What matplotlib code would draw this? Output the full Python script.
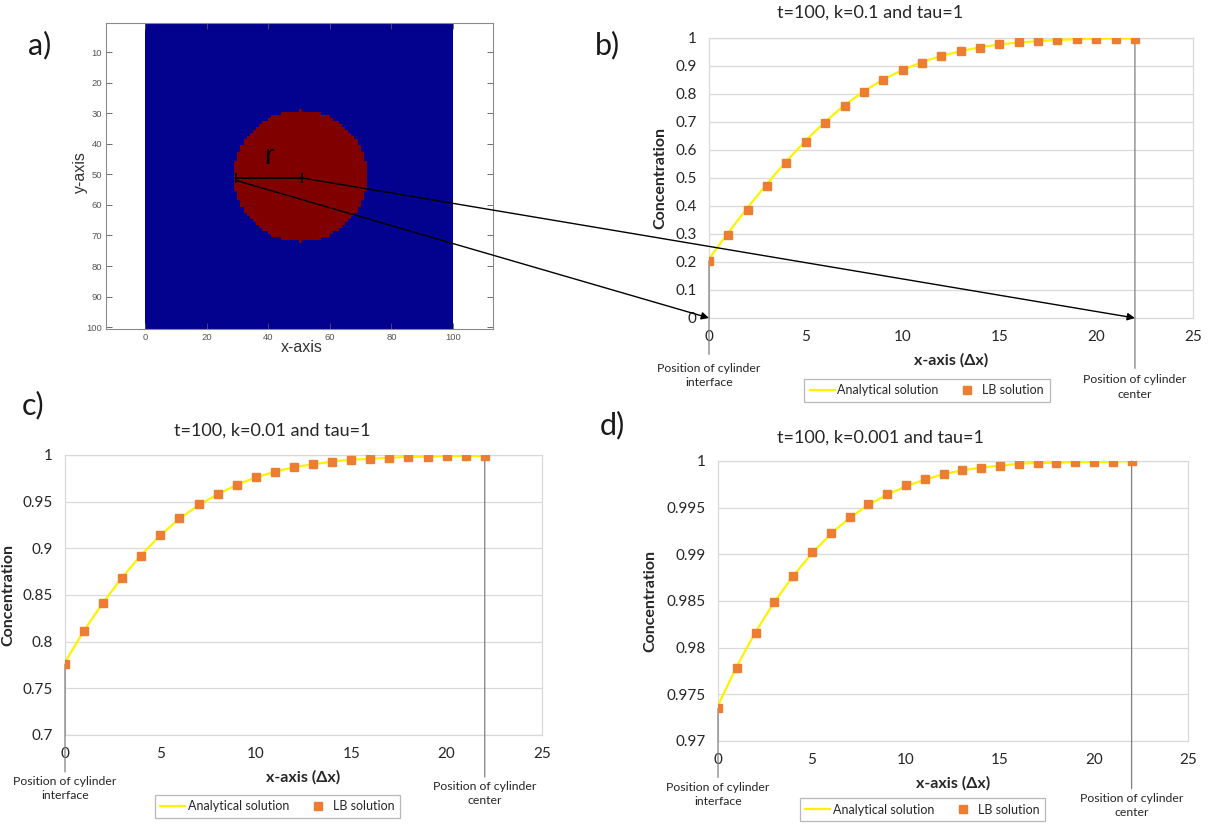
import numpy as np
import matplotlib
matplotlib.use("Agg")
import matplotlib.pyplot as plt
import matplotlib.transforms as mtransforms
from matplotlib.colors import ListedColormap
from matplotlib.lines import Line2D
from matplotlib.patches import ConnectionPatch
from matplotlib.ticker import FuncFormatter

plt.rcParams["font.family"] = ["Lato", "DejaVu Sans"]

# ---------------- data ----------------
x_pos = np.arange(23)

lb_k01 = [0.205, 0.295, 0.385, 0.472, 0.555, 0.627, 0.697, 0.757, 0.807, 0.850,
          0.884, 0.912, 0.934, 0.952, 0.966, 0.977, 0.984, 0.989, 0.993, 0.996,
          0.997, 0.998, 0.998]
an_k01 = [0.212, 0.305, 0.395, 0.480, 0.560, 0.634, 0.701, 0.760, 0.810, 0.852,
          0.886, 0.914, 0.936, 0.953, 0.967, 0.977, 0.984, 0.989, 0.993, 0.996,
          0.997, 0.998, 0.998]

lb_k001 = [0.776, 0.811, 0.841, 0.868, 0.892, 0.914, 0.932, 0.947, 0.958, 0.968,
           0.976, 0.982, 0.987, 0.990, 0.993, 0.995, 0.996, 0.997, 0.998, 0.998,
           0.999, 0.999, 0.999]
an_k001 = [0.778, 0.812, 0.842, 0.869, 0.893, 0.914, 0.932, 0.946, 0.958, 0.968,
           0.976, 0.982, 0.987, 0.990, 0.993, 0.995, 0.996, 0.997, 0.998, 0.998,
           0.999, 0.999, 0.999]

lb_k0001 = [0.9735, 0.9778, 0.9816, 0.9849, 0.9877, 0.9902, 0.9923, 0.9940, 0.9954,
            0.9965, 0.9974, 0.9981, 0.9986, 0.9990, 0.9993, 0.9995, 0.9997, 0.9998,
            0.9998, 0.9999, 0.9999, 0.9999, 1.0000]
an_k0001 = [0.9738, 0.9780, 0.9817, 0.9849, 0.9877, 0.9901, 0.9922, 0.9939, 0.9953,
            0.9964, 0.9973, 0.9980, 0.9986, 0.9990, 0.9993, 0.9995, 0.9997, 0.9998,
            0.9998, 0.9999, 0.9999, 0.9999, 1.0000]

titles = ["t=100, k=0.1 and tau=1", "t=100, k=0.01 and tau=1", "t=100, k=0.001 and tau=1"]
yticks_b = [0, 0.1, 0.2, 0.3, 0.4, 0.5, 0.6, 0.7, 0.8, 0.9, 1]
yticks_c = [0.7, 0.75, 0.8, 0.85, 0.9, 0.95, 1]
yticks_d = [0.97, 0.975, 0.98, 0.985, 0.99, 0.995, 1]

# lattice domain with the cylinder
grid_n = 100
cyl_cx, cyl_cy = 51.0, 50.5
cyl_r = 21.5
x_interface = 0
x_center = 22

# ---------------- layout helpers ----------------
W, H = 1210, 824
fig = plt.figure(figsize=(W / 100, H / 100), dpi=100)


def box(l, t, r, b):
    return [l / W, 1 - b / H, (r - l) / W, (b - t) / H]


def ftext(x, y, s, **kw):
    fig.text(x / W, 1 - y / H, s, **kw)


YELLOW = "#FFF200"
ORANGE = "#ED7D31"
GRID = "#D9D9D9"
TXT = "#262626"
ARIAL = ["Liberation Sans", "DejaVu Sans"]

# ---------------- panel a: lattice ----------------
axa = fig.add_axes(box(106, 23, 493, 329))
ii, jj = np.meshgrid(np.arange(1, grid_n + 1), np.arange(1, grid_n + 1))
solid = ((ii - cyl_cx) ** 2 + (jj - cyl_cy) ** 2 <= cyl_r ** 2).astype(int)
axa.imshow(solid, cmap=ListedColormap(["#02028F", "#800000"]),
           extent=(0, 100, 100.5, 0.5), interpolation="nearest", aspect="auto")
axa.set_xlim(-12.7, 113)
axa.set_ylim(100.6, 0.5)
axa.set_xticks([0, 20, 40, 60, 80, 100])
axa.set_yticks(np.arange(10, 101, 10))
axa.tick_params(direction="in", length=4, width=0.6, labelsize=6.8,
                colors="#555555", top=True, right=True, pad=3)
for lab in axa.get_xticklabels() + axa.get_yticklabels():
    lab.set_family(ARIAL)
for sp in axa.spines.values():
    sp.set_color("#8a8a8a")
    sp.set_linewidth(0.8)

r_y = cyl_cy + 0.7
axa.plot([cyl_cx - cyl_r, cyl_cx], [r_y, r_y], color="black", lw=1.3,
         marker="|", ms=7, mew=1.4)
axa.text((2 * cyl_cx - cyl_r) / 2, r_y - 2.5, "r", fontsize=20,
         family=ARIAL, ha="center", va="bottom")
ftext(80, 172, "y-axis", rotation=90, fontsize=11.5, ha="center", va="center",
      family=ARIAL, color="#333333")
ftext(302, 348, "x-axis", fontsize=11.5, ha="center", va="center",
      family=ARIAL, color="#333333")


# ---------------- panels b, c, d ----------------
def fmt(v, _):
    return f"{round(v, 4):g}"


def concentration_panel(ax, lb, an, yticks, ylab_x, ix_lab, cx_lab, legend_xy):
    ax.plot(x_pos, an, color=YELLOW, lw=1.6, zorder=3)
    ax.plot(x_pos, lb, ls="none", marker="s", ms=6, color=ORANGE, mec=ORANGE, zorder=4)
    ax.set_xlim(0, 25)
    ax.set_ylim(yticks[0], yticks[-1])
    ax.set_xticks(range(0, 26, 5))
    ax.set_yticks(yticks)
    ax.yaxis.set_major_formatter(FuncFormatter(fmt))
    ax.grid(axis="y", color=GRID, lw=0.9)
    ax.set_axisbelow(True)
    for sp in ax.spines.values():
        sp.set_color(GRID)
        sp.set_linewidth(0.9)
    ax.tick_params(length=0, labelsize=11, labelcolor=TXT, pad=9)
    ax.set_ylabel("Concentration", fontsize=11.5, fontweight="bold", color=TXT)
    ax.yaxis.set_label_coords(ylab_x, 0.5)
    ax.set_xlabel("x-axis (Δx)", fontsize=11.5, fontweight="bold", color=TXT, labelpad=6)

    # callout lines for interface and centre
    tr = mtransforms.blended_transform_factory(ax.transData, ax.transAxes)
    for xv, yv, yend, ytxt, label in [
        (x_interface, lb[x_interface], ix_lab[0], ix_lab[1], "Position of cylinder\ninterface"),
        (x_center, lb[x_center], cx_lab[0], cx_lab[1], "Position of cylinder\ncenter"),
    ]:
        ax.annotate("", xy=(xv, yv), xycoords="data", xytext=(xv, yend),
                    textcoords=("data", "axes fraction"),
                    arrowprops=dict(arrowstyle="-", color="#7f7f7f", lw=0.9,
                                    shrinkA=0, shrinkB=0), annotation_clip=False)
        ax.text(xv, ytxt, label, transform=tr, ha="center", va="top",
                fontsize=8.8, color=TXT, linespacing=1.4)

    handles = [Line2D([], [], color=YELLOW, lw=1.6),
               Line2D([], [], ls="none", marker="s", ms=6, color=ORANGE)]
    leg = ax.legend(handles, ["Analytical solution", "LB solution"], loc="center",
                    bbox_to_anchor=legend_xy, ncol=2, fontsize=9, frameon=True,
                    fancybox=False, edgecolor="#a6a6a6", handlelength=2.0,
                    handletextpad=0.2, columnspacing=1.3, borderpad=0.45)
    leg.get_frame().set_linewidth(0.9)
    for t in leg.get_texts():
        t.set_color(TXT)


axb = fig.add_axes(box(709, 38, 1193, 318))
concentration_panel(axb, lb_k01, an_k01, yticks_b, -0.087,
                    (-0.13, -0.16), (-0.18, -0.2), (0.45, -0.258))
axc = fig.add_axes(box(65, 455, 542, 735))
concentration_panel(axc, lb_k001, an_k001, yticks_c, -0.105,
                    (-0.132, -0.145), (-0.15, -0.163), (0.445, -0.255))
axd = fig.add_axes(box(718, 461, 1188, 741))
concentration_panel(axd, lb_k0001, an_k0001, yticks_d, -0.13,
                    (-0.13, -0.145), (-0.17, -0.185), (0.435, -0.245))

for (x, y), t in zip([(870, 13), (272, 431), (880, 438)], titles):
    ftext(x, y, t, fontsize=13, ha="center", va="center", color=TXT)

# panel letters
for (x, y), s in zip([(40, 45), (607, 45), (33, 405), (612, 425)], ["a)", "b)", "c)", "d)"]):
    ftext(x, y, s, fontsize=22, ha="center", va="center", color="#1a1a1a")

# arrows mapping the radius onto the profile axis
for xa, ya, xb in [(cyl_cx - cyl_r, r_y + 0.8, x_interface), (cyl_cx, r_y, x_center)]:
    con = ConnectionPatch(xyA=(xa, ya), coordsA=axa.transData,
                          xyB=(xb, 0), coordsB=axb.transData,
                          arrowstyle="-|>", mutation_scale=11, color="black", lw=1.0,
                          shrinkA=0, shrinkB=0)
    fig.add_artist(con)

fig.savefig("out.png", dpi=100)
